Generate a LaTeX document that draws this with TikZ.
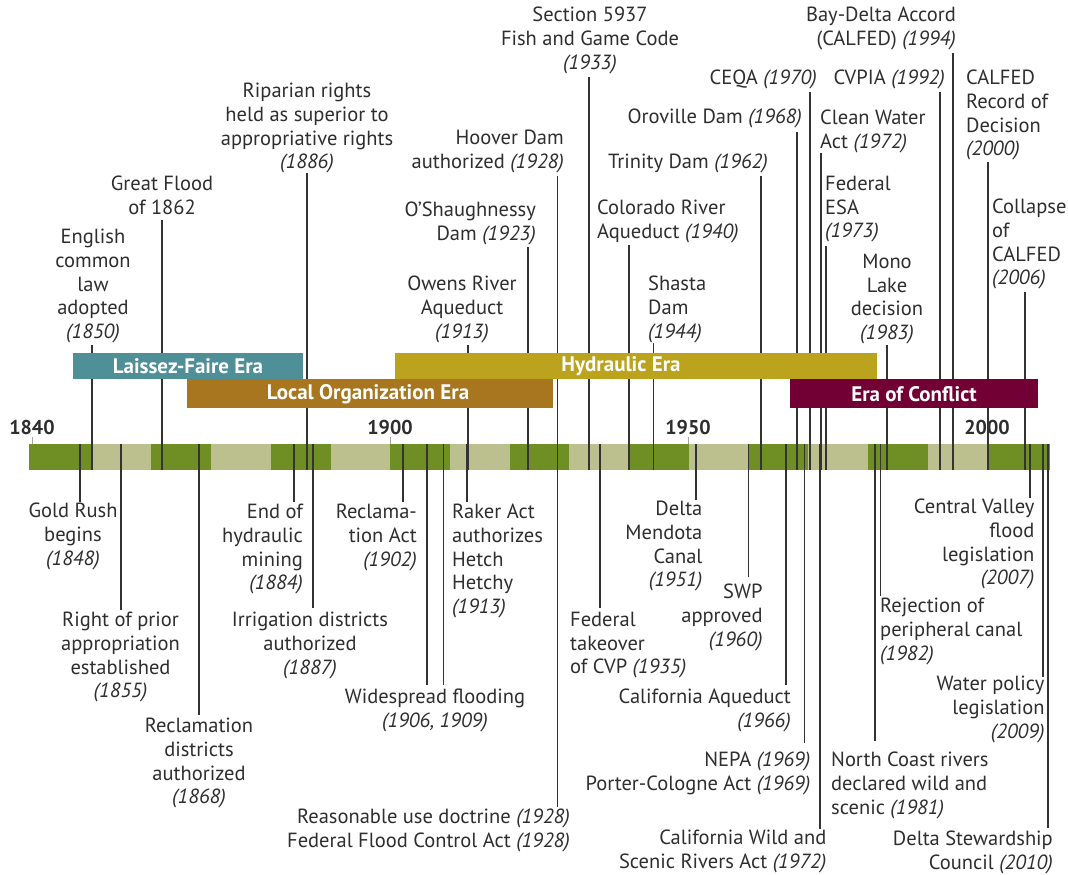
\documentclass[tikz,border=0pt]{standalone}
\usepackage{fontspec}
\setmainfont{PT Sans}
\definecolor{txtc}{HTML}{2E2E2E}
\definecolor{linec}{HTML}{333333}
\definecolor{lfcol}{HTML}{4E8F98}
\definecolor{locol}{HTML}{A8761F}
\definecolor{hycol}{HTML}{BBA31E}
\definecolor{eccol}{HTML}{730034}
\definecolor{dkgreen}{HTML}{6F8E23}
\definecolor{ltgreen}{HTML}{BCC08F}
\newcommand\yr[1]{\textit{(#1)}}
\tikzset{
  lbl/.style={font=\fontsize{20.5}{23.7}\selectfont, text=txtc, inner sep=0pt, anchor=north, align=center},
  lblL/.style={lbl, anchor=north west, align=left},
  lblR/.style={lbl, anchor=north east, align=right},
  conn/.style={draw=linec, line width=1.4pt},
  eralbl/.style={inner sep=0pt, font=\fontsize{21}{24}\selectfont\bfseries, text=white},
  yearlbl/.style={inner sep=0pt, font=\fontsize{20}{23}\selectfont\bfseries, text=txtc},
  tickmark/.style={draw=gray!70, line width=1pt}
}
\begin{document}
\begin{tikzpicture}[x=1pt,y=-1pt]
\useasboundingbox[fill=white] (0,0) rectangle (1068,875);
% year labels and ticks
\node[yearlbl] (y1840) at (32,427) {1840};
\node[yearlbl] (y1900) at (390,427) {1900};
\node[yearlbl] (y1950) at (688,427) {1950};
\node[yearlbl] (y2000) at (987,427) {2000};
\foreach \x in {32,390,688.7,987} \draw[tickmark] (\x,437) -- (\x,444);
% timeline bar
\fill[dkgreen] (29,444) rectangle (1050,470);
\foreach \a/\b in {91.7/151.4, 211.1/270.8, 330.5/390.2, 449.9/509.6, 569.3/629, 688.7/748.4, 808.1/867.8, 927.5/987.2}
  \fill[ltgreen] (\a,444) rectangle (\b,470);
% connectors from above labels
\foreach \n/\x/\y in {a1850/92/345, a1862/162/220, a1886/307/173, a1913/468/345, a1923/528/247, a1928/557.5/176, a1933/589/77, a1940/629/245, a1944/653.5/343, a1962/761/176, a1968/797/132, a1970/810/92, a1972/821/153, a1973/826/246, a1983/887/345, a1992/940/92, a1994/953/53, a2000/988/162, a2006/1025/292}
{
  \coordinate (\n s) at (\x,\y);
  \coordinate (\n e) at (\x,470);
  \draw[conn] (\n s) -- (\n e);
}
% connectors to below labels
\foreach \n/\x/\y in {b1848/80/502, b1855/121/610, b1868/199/715, b1884/294/502, b1887/313/608, b1902/403/502, b1906/427/685, b1909/443.5/685, b1913/467/502, b1928/557.5/807, b1935/600/608, b1951/696/500, b1960/748.6/577, b1966/786/685, b1969/804.5/743, b1972/820/829, b1981/875/741, b1982/880.7/596, b2007/1030/498, b2009/1043/677, b2010/1048/828}
{
  \coordinate (\n s) at (\x,444);
  \coordinate (\n e) at (\x,\y);
  \draw[conn] (\n s) -- (\n e);
}
% era bars (drawn over the connectors)
\fill[lfcol] (73,353) rectangle (303,379);
\fill[locol] (187,379) rectangle (553,408);
\fill[hycol] (395,353) rectangle (877,379);
\fill[eccol] (790,379) rectangle (1038,408);
\node[eralbl] (elf) at (188,366.5) {Laissez-Faire Era};
\node[eralbl] (elo) at (368,394) {Local Organization Era};
\node[eralbl] (ehy) at (621,366.5) {Hydraulic Era};
\node[eralbl] (eec) at (914,394) {Era of Conflict};
% labels above
\node[lbl] (t1850) at (93,229) {English\\common\\law\\adopted\\\yr{1850}};
\node[lbl] (t1862) at (162,176) {Great Flood\\of 1862};
\node[lbl] (t1886) at (307,83) {Riparian rights\\held as superior to\\appropriative rights\\\yr{1886}};
\node[lbl] (t1913) at (462,276) {Owens River\\Aqueduct\\\yr{1913}};
\node[lblR] (t1923) at (536,202) {O'Shaughnessy\\Dam \yr{1923}};
\node[lblR] (t1928) at (564,130) {Hoover Dam\\authorized \yr{1928}};
\node[lbl] (t1933) at (590,7) {Section 5937\\Fish and Game Code\\\yr{1933}};
\node[lblL] (t1940) at (597,200) {Colorado River\\Aqueduct \yr{1940}};
\node[lblL] (t1944) at (648,276) {Shasta\\Dam\\\yr{1944}};
\node[lblR] (t1962) at (768,154) {Trinity Dam \yr{1962}};
\node[lblR] (t1968) at (802,109) {Oroville Dam \yr{1968}};
\node[lblR] (t1970) at (817,70) {CEQA \yr{1970}};
\node[lblL] (t1972) at (820,110) {Clean Water\\Act \yr{1972}};
\node[lblL] (t1973) at (825,176) {Federal\\ESA\\\yr{1973}};
\node[lbl] (t1983) at (887,254) {Mono\\Lake\\decision\\\yr{1983}};
\node[lblR] (t1992) at (945,70) {CVPIA \yr{1992}};
\node[lblR] (t1994) at (956,7) {Bay-Delta Accord\\(CALFED) \yr{1994}};
\node[lblL] (t2000) at (966,70) {CALFED\\Record of\\Decision\\\yr{2000}};
\node[lblL] (t2006) at (992,199) {Collapse\\of\\CALFED\\\yr{2006}};
% labels below
\node[lbl] (l1848) at (73,503) {Gold Rush\\begins\\\yr{1848}};
\node[lbl] (l1855) at (120.5,612) {Right of prior\\appropriation\\established\\\yr{1855}};
\node[lbl] (l1868) at (199,718) {Reclamation\\districts\\authorized\\\yr{1868}};
\node[lblR] (l1884) at (303,504) {End of\\hydraulic\\mining\\\yr{1884}};
\node[lbl] (l1887) at (310,612) {Irrigation districts\\authorized\\\yr{1887}};
\node[lblR] (l1902) at (417,504) {Reclama-\\tion Act\\\yr{1902}};
\node[lbl] (l1906) at (435,689) {Widespread flooding\\\yr{1906, 1909}};
\node[lblL] (l1913) at (452,504) {Raker Act\\authorizes\\Hetch\\Hetchy\\\yr{1913}};
\node[lblR] (l1928) at (570,809) {Reasonable use doctrine \yr{1928}\\Federal Flood Control Act \yr{1928}};
\node[lblL] (l1935) at (570,612) {Federal\\takeover\\of CVP \yr{1935}};
\node[lblR] (l1951) at (702.6,501) {Delta\\Mendota\\Canal\\\yr{1951}};
\node[lblR] (l1960) at (762.7,584) {SWP\\approved\\\yr{1960}};
\node[lblR] (l1966) at (791,689) {California Aqueduct\\\yr{1966}};
\node[lblR] (l1969) at (810.5,752) {NEPA \yr{1969}\\Porter-Cologne Act \yr{1969}};
\node[lblR] (l1972) at (826.5,830) {California Wild and\\Scenic Rivers Act \yr{1972}};
\node[lblL] (l1981) at (831,752) {North Coast rivers\\declared wild and\\scenic \yr{1981}};
\node[lblL] (l1982) at (880,598) {Rejection of\\peripheral canal\\\yr{1982}};
\node[lblR] (l2007) at (1034.5,499) {Central Valley\\flood\\legislation\\\yr{2007}};
\node[lblR] (l2009) at (1044.7,676) {Water policy\\legislation\\\yr{2009}};
\node[lblR] (l2010) at (1053,831) {Delta Stewardship\\Council \yr{2010}};
\end{tikzpicture}
\end{document}
